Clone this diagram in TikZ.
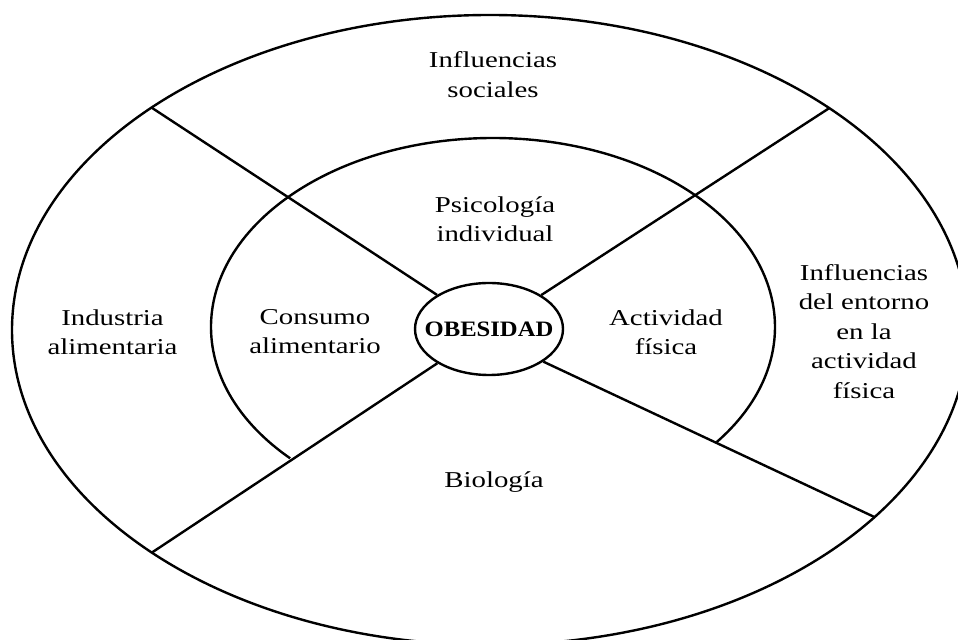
\documentclass[tikz,border=0pt]{standalone}
\usepackage{fontspec}
\setmainfont[FakeStretch=1.27]{Liberation Serif}
\newfontfamily\obesfont[FakeStretch=1.12]{Liberation Serif}
\usetikzlibrary{shapes.geometric}
\begin{document}
\begin{tikzpicture}[x=0.5pt,y=-0.5pt,line width=1.2pt,
	every node/.style={align=center,inner sep=0pt,font=\fontsize{11.35}{14.75}\selectfont},
	centre/.style={draw,ellipse,minimum width=74pt,minimum height=46pt}]
	
	\clip (0,0) rectangle (958,640);
	\draw (490,330) ellipse [x radius=478, y radius=315];
	\draw (493,327) ++(136:282 and 189) arc [start angle=136, end angle=397.5, x radius=282, y radius=189];
	
	\node[centre, label={[font=\obesfont\bfseries\fontsize{11}{13}\selectfont]center:OBESIDAD}] (obesidad) at (489,329) {};
	\coordinate (ul) at (151.7,107.7);
	\coordinate (ur) at (829,108.3);
	\coordinate (lr) at (875,517.3);
	\coordinate (ll) at (151.7,552.7);
	
	\path (obesidad) edge (ul);
	\path (obesidad) edge (ur);
	\path (obesidad.-31) edge (lr);
	\path (obesidad) edge (ll);
	
	\node (sociales) at (493,74.5) {Influencias\\sociales};
	\node (psicologia) at (495,219) {Psicología\\individual};
	\node (industria) at (112.5,332) {Industria\\alimentaria};
	\node (consumo) at (315,331.7) {Consumo\\alimentario};
	\node (actividad) at (666,332) {Actividad\\física};
	\node (entorno) at (864,331.4) {Influencias\\del entorno\\en la\\actividad\\física};
	\node (biologia) at (494,482.5) {Biología};
	
\end{tikzpicture}
\end{document}
